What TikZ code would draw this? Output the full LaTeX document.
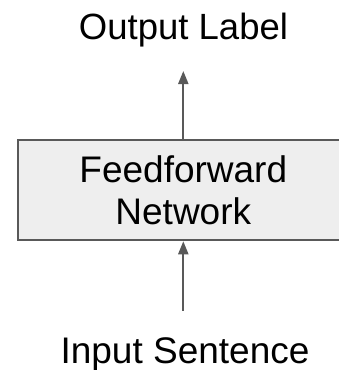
\documentclass[tikz,border=0pt]{standalone}
\usepackage{fontspec}
\setmainfont{Liberation Sans}
\usetikzlibrary{arrows.meta}
\definecolor{edgegrey}{HTML}{595959}
\definecolor{boxfill}{HTML}{EEEEEE}
\begin{document}
\begin{tikzpicture}[x=1pt,y=-1pt,
  every node/.style={font=\fontsize{37}{41.6}\selectfont},
  label/.style={anchor=base,inner sep=0pt},
  netbox/.style={draw=edgegrey,fill=boxfill,line width=2pt,
    minimum width=331.6pt,minimum height=100.5pt,align=center,inner sep=0pt},
  flow/.style={draw=edgegrey,line width=2pt,
    -{Triangle[length=13pt,width=10pt]}}]
  \useasboundingbox (0,0) rectangle (339,370);
  \clip (0,0) rectangle (339,370);
  % network block
  \node[netbox] (ffn) at (183.3,190) {Feedforward\\Network};
  % captions
  \node[label,font=\fontsize{36.5}{40}\selectfont] (out) at (183.5,39.5) {Output Label};
  \node[label] (in) at (185,363.3) {Input Sentence};
  % arrow ends
  \coordinate (outtip) at (183.3,71);
  \coordinate (instart) at (183.3,310.7);
  \draw[flow] (ffn.north) -- (outtip);
  \draw[flow] (instart) -- (ffn.south);
\end{tikzpicture}
\end{document}
